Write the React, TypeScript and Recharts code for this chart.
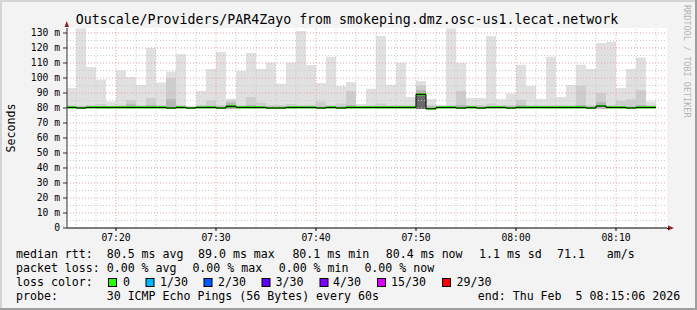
import React from 'react';
import { ComposedChart, Area, Line, XAxis, YAxis, ReferenceLine, CartesianGrid } from 'recharts';

// minute start of each smoke column (07:xx minutes, 60+ = 08:xx)
const times = [15.1, 16, 17, 18, 19, 20, 21, 22, 23, 24, 25, 26, 27, 28, 29, 30, 31, 32, 33, 34, 35, 36, 37, 38, 39, 40, 41, 42, 43, 44, 45, 46, 47, 48, 49, 50, 51, 52, 53, 54, 55, 56, 57, 58, 59, 60, 61, 62, 63, 64, 65, 66, 67, 68, 69, 70, 71, 72, 73];
const endTime = 74;

// ms values
const smokeMax = [93.3, 133, 107.3, 99, 84.4, 105, 100.7, 95.3, 120, 97, 104.4, 116, 81.2, 91.3, 106, 117.3, 86.2, 104.7, 116.7, 106, 110.4, 96.2, 110.4, 131.3, 108.7, 96.7, 114.2, 94.7, 97.3, 82.7, 92.9, 128, 95.5, 110.2, 87.3, 98, 86, 82, 133, 110, 86.7, 86.7, 128, 85.8, 89.6, 108.9, 94.7, 86, 114.2, 87.3, 95.3, 108.9, 106, 123.3, 124.2, 93.3, 106, 113.6, 84.4];
const smokeMid = [82, 81.5, 82, 82.7, 81.5, 82, 85.3, 82, 86.7, 82, 100, 82, 80.8, 82, 85, 82, 85, 82, 87.3, 83.6, 82, 82, 82.7, 82, 82, 84.4, 82, 83, 91.3, 81.5, 82, 83, 82, 82, 82, 95, 82, 81.5, 82, 91.3, 82, 82, 83, 82, 82, 85.5, 82, 82, 82, 82, 82, 95, 82, 90, 82, 84.9, 85.8, 91.8, 82];
const smokeDark = [81, 81, 81, 81, 81, 81, 82.5, 81, 82, 81, 85.8, 81, 80.6, 81, 81.5, 81, 83.5, 81, 82, 81, 81, 81, 81, 81, 81, 81, 81, 81, 82, 81, 81, 81, 81, 81, 81, 91.8, 81, 81, 81, 82, 81, 81, 81, 81, 81, 82, 81, 81, 81, 81, 81, 82, 81, 84, 81, 81, 81, 82, 81];
const smokeCore = [79.6, 79.6, 79.6, 79.6, 79.6, 79.6, 79.6, 79.6, 79.6, 79.6, 79.6, 79.6, 79.6, 79.6, 79.6, 79.6, 82, 79.6, 79.6, 79.6, 79.6, 79.6, 79.6, 79.6, 79.6, 79.6, 79.6, 79.6, 79.6, 79.6, 79.6, 79.6, 79.6, 79.6, 79.6, 90, 79.6, 79.6, 79.6, 79.6, 79.6, 79.6, 79.6, 79.6, 79.6, 79.6, 79.6, 79.6, 79.6, 79.6, 79.6, 79.6, 79.6, 79.6, 79.6, 79.6, 79.6, 79.6, 79.6];
const smokeMin = [79.6, 79.6, 79.6, 79.6, 79.6, 79.6, 79.6, 79.6, 79.6, 79.6, 79.6, 79.6, 79.6, 79.6, 79.6, 79.6, 79.6, 79.6, 79.6, 79.6, 79.6, 79.6, 79.6, 79.6, 79.6, 79.6, 79.6, 79.6, 79.6, 79.6, 79.6, 79.6, 79.6, 79.6, 79.6, 79.3, 79.6, 79.6, 79.6, 79.6, 79.6, 79.6, 79.6, 79.6, 79.6, 79.6, 79.6, 79.6, 79.6, 79.6, 79.6, 79.6, 79.6, 79.6, 79.6, 79.6, 79.6, 79.6, 79.6];
const median = [80.4, 80.0, 80.4, 80.4, 80.4, 80.4, 80.4, 80.4, 80.4, 80.4, 80.0, 80.4, 80.0, 80.4, 80.4, 80.0, 81.1, 80.4, 80.4, 80.4, 80.0, 80.0, 80.4, 80.4, 80.4, 80.0, 80.4, 80.0, 80.4, 80.4, 80.4, 80.4, 80.4, 80.4, 80.4, 89.1, 79.5, 80.4, 80.4, 80.0, 80.4, 80.0, 80.4, 80.4, 80.0, 80.4, 80.4, 80.4, 80.4, 80.4, 80.4, 80.4, 80.0, 81.3, 80.4, 80.4, 80.0, 80.4, 80.4];

const yTicks = [0, 10, 20, 30, 40, 50, 60, 70, 80, 90, 100, 110, 120, 130];
const yMajorGrid = [10, 20, 30, 40, 50, 60, 70, 80, 90, 100, 110, 120, 130];
const yMinorGrid = [5, 15, 25, 35, 45, 55, 65, 75, 85, 95, 105, 115, 125];
const xMajor = [20, 30, 40, 50, 60, 70];
const xLabels = ['07:20', '07:30', '07:40', '07:50', '08:00', '08:10'];
const xMinorGrid = [16, 18, 22, 24, 26, 28, 32, 34, 36, 38, 42, 44, 46, 48, 52, 54, 56, 58, 62, 64, 66, 68, 72, 74];

const lossLabels = ['0', '1/30', '2/30', '3/30', '4/30', '15/30', '29/30'];
const lossColors = ['#26ff00', '#00b8ff', '#0059ff', '#5e00ff', '#7e00ff', '#dd00ff', '#ff0000'];
const lossBoxX = [108, 145.5, 203.5, 261.5, 319.5, 377, 442];
const lossTextX = [123, 160, 218, 275.5, 333, 391, 456.5];

const line1 = [
  [16, 'median rtt:'], [106.7, '80.5 ms avg'], [198, '89.0 ms max'], [292.4, '80.1 ms min'],
  [385.8, '80.4 ms now'], [479, '1.1 ms sd'], [557, '71.1'], [606.7, 'am/s'],
] as const;
const line2 = [
  [16, 'packet loss:'], [106.7, '0.00 % avg'], [192.4, '0.00 % max'], [278.7, '0.00 % min'], [364.4, '0.00 % now'],
] as const;
const line4 = [
  [16, 'probe:'], [106.7, '30 ICMP Echo Pings (56 Bytes) every 60s'], [477.8, 'end: Thu Feb  5 08:15:06 2026'],
] as const;

const mono = '"DejaVu Sans Mono", "Liberation Mono", monospace';

function row(i: number, t: number) {
  return {
    t,
    light: smokeMax[i],
    mid: smokeMid[i],
    dark: smokeDark[i],
    core: smokeCore[i],
    low: smokeMin[i],
    med: median[i],
    gBase: median[i] - 0.7,
    gBand: 1.4,
  };
}
// each column becomes two points (start and end) so steps render exactly
const table = times.flatMap((t, i) => [row(i, t), row(i, i + 1 < times.length ? times[i + 1] : endTime)]);

const areaCommon = {
  type: 'linear' as const,
  stroke: 'none',
  fillOpacity: 1,
  isAnimationActive: false,
  dot: false,
  activeDot: false,
  baseValue: 0 as const,
};

export default function App() {
  return (
    <div style={{ position: 'absolute', left: 0, top: 0, width: 697, height: 310, background: '#f3f3f3', overflow: 'hidden' }}>
      <ComposedChart width={697} height={310} data={table} margin={{ top: 28, right: 30, bottom: 62, left: 0 }}>
        <CartesianGrid fill="#ffffff" horizontal={false} vertical={false} stroke="none" />
        <XAxis
          dataKey="t"
          type="number"
          domain={[15.1, 75.1]}
          allowDataOverflow
          ticks={xMajor}
          interval={0}
          tickFormatter={(v: number) => xLabels[xMajor.indexOf(v)] ?? ''}
          height={20}
          tickSize={3}
          tickMargin={3}
          axisLine={{ stroke: '#000' }}
          tickLine={{ stroke: '#000' }}
          tick={{ fontFamily: mono, fontSize: 9.7, fill: '#000' }}
        />
        <YAxis
          type="number"
          domain={[0, 133.33]}
          allowDataOverflow
          ticks={yTicks}
          interval={0}
          width={67}
          tickFormatter={(v: number) => (v === 0 ? '0' : `${v} m`)}
          tickSize={4}
          tickMargin={3}
          axisLine={{ stroke: '#333' }}
          tickLine={{ stroke: '#333' }}
          tick={{ fontFamily: mono, fontSize: 9.7, fill: '#000' }}
        />
        <Area {...areaCommon} dataKey="light" fill="#e0e0e0" />
        <Area {...areaCommon} dataKey="mid" fill="#cdcdcd" />
        <Area {...areaCommon} dataKey="dark" fill="#b4b4b4" />
        <Area {...areaCommon} dataKey="core" fill="#6a6a6a" />
        <Area {...areaCommon} dataKey="low" fill="#ffffff" />
        {yMinorGrid.map((v) => (
          <ReferenceLine key={'ym' + v} y={v} stroke="#c8c8c8" strokeDasharray="1 2" />
        ))}
        {xMinorGrid.map((v) => (
          <ReferenceLine key={'xm' + v} x={v} stroke="#c8c8c8" strokeDasharray="1 2" />
        ))}
        {yMajorGrid.map((v) => (
          <ReferenceLine key={'yM' + v} y={v} stroke="#e8a0a0" strokeDasharray="1 2" />
        ))}
        {xMajor.map((v) => (
          <ReferenceLine key={'xM' + v} x={v} stroke="#e8a0a0" strokeDasharray="1 2" />
        ))}
        <Line type="linear" dataKey="med" stroke="#000" strokeWidth={1} dot={false} activeDot={false} isAnimationActive={false} />
        <Area type="linear" dataKey="gBase" stackId="g" stroke="none" fill="none" fillOpacity={0} isAnimationActive={false} dot={false} activeDot={false} />
        <Area type="linear" dataKey="gBand" stackId="g" stroke="none" fill="#20ff00" fillOpacity={1} isAnimationActive={false} dot={false} activeDot={false} />
      </ComposedChart>
      <svg width={697} height={310} style={{ position: 'absolute', left: 0, top: 0, pointerEvents: 'none' }}>
        <rect x={0} y={0} width={697} height={2} fill="#d4d4d4" />
        <rect x={0} y={0} width={2} height={310} fill="#d4d4d4" />
        <rect x={695} y={0} width={2} height={310} fill="#9e9e9e" />
        <rect x={0} y={308} width={697} height={2} fill="#9e9e9e" />
        <text x={347} y={24} textAnchor="middle" fontFamily={mono} fontSize={13.25} fill="#000">
          Outscale/Providers/PAR4Zayo from smokeping.dmz.osc-us1.lecat.network
        </text>
        <text x={14.5} y={128} textAnchor="middle" transform="rotate(-90 14.5 128)" fontFamily={mono} fontSize={11.6} fill="#000">
          Seconds
        </text>
        <text x={683.5} y={5} transform="rotate(90 683.5 5)" fontFamily={mono} fontSize={8.5} fill="#b4b4b4">
          RRDTOOL / TOBI OETIKER
        </text>
        <polygon points="64.5,27 69,27 66.75,21" fill="#902020" />
        <polygon points="668,225.5 668,230.5 674,228" fill="#902020" />
        <line x1={667} y1={228.5} x2={669} y2={228.5} stroke="#000" />
        {line1.map(([x, s]) => (
          <text key={'l1' + x} x={x} y={258} fontFamily={mono} fontSize={11.6} fill="#000" style={{ whiteSpace: 'pre' }}>{s}</text>
        ))}
        {line2.map(([x, s]) => (
          <text key={'l2' + x} x={x} y={272} fontFamily={mono} fontSize={11.6} fill="#000" style={{ whiteSpace: 'pre' }}>{s}</text>
        ))}
        <text x={16} y={286} fontFamily={mono} fontSize={11.6} fill="#000">loss color:</text>
        {lossLabels.map((s, i) => (
          <g key={'lc' + i}>
            <rect x={lossBoxX[i] + 0.5} y={278.5} width={8} height={8} fill={lossColors[i]} stroke="#000" strokeWidth={1} />
            <text x={lossTextX[i]} y={286} fontFamily={mono} fontSize={11.6} fill="#000">{s}</text>
          </g>
        ))}
        {line4.map(([x, s]) => (
          <text key={'l4' + x} x={x} y={300} fontFamily={mono} fontSize={11.6} fill="#000" style={{ whiteSpace: 'pre' }}>{s}</text>
        ))}
      </svg>
    </div>
  );
}
